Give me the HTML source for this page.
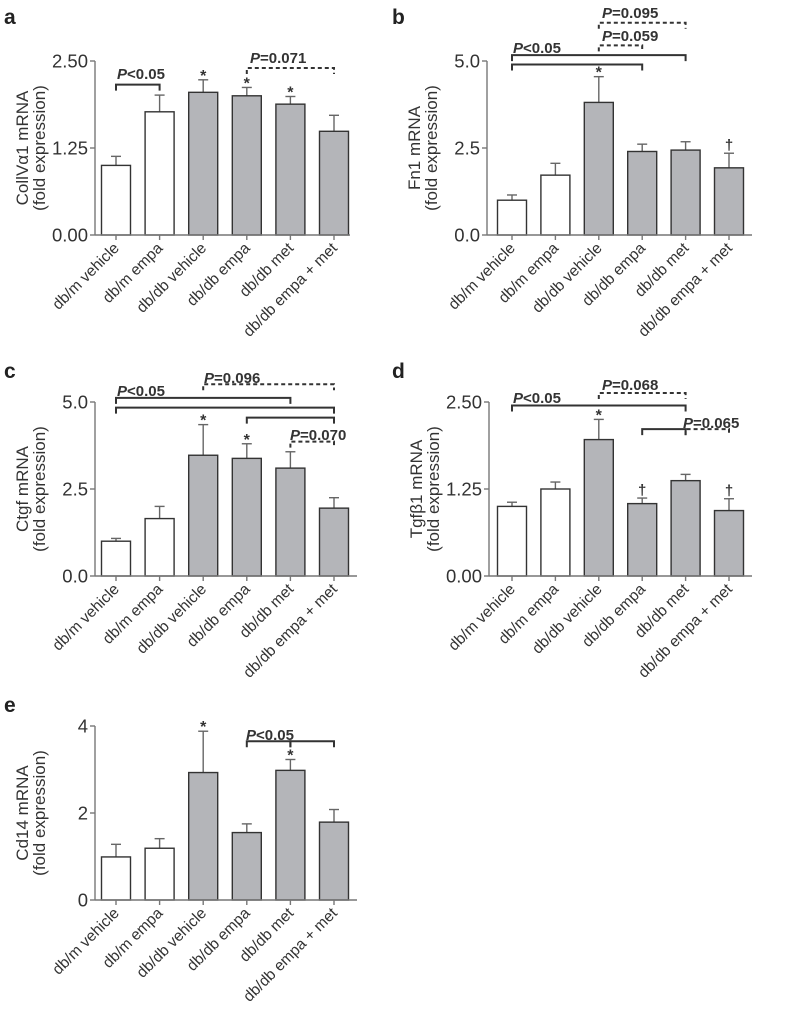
<!DOCTYPE html>
<html><head><meta charset="utf-8"><style>
html,body{margin:0;padding:0;background:#fff;}
svg{display:block;font-family:"Liberation Sans",sans-serif;}
</style></head><body>
<svg id="fig" width="787" height="1018" viewBox="0 0 787 1018"></svg>
<script>
const categories = ["db/m vehicle","db/m empa","db/db vehicle","db/db empa","db/db met","db/db empa + met"];
const valsA = [1.0,1.77,2.05,2.0,1.88,1.49];
const errA  = [1.13,2.01,2.23,2.12,1.99,1.72];
const valsB = [1.0,1.72,3.81,2.4,2.44,1.93];
const errB  = [1.15,2.06,4.55,2.61,2.68,2.35];
const valsC = [1.0,1.65,3.47,3.38,3.1,1.95];
const errC  = [1.08,2.0,4.35,3.8,3.57,2.25];
const valsD = [1.0,1.25,1.96,1.04,1.37,0.94];
const errD  = [1.06,1.35,2.25,1.12,1.46,1.11];
const valsE = [0.99,1.19,2.93,1.55,2.98,1.79];
const errE  = [1.28,1.41,3.88,1.75,3.23,2.08];
const marksA = ["","","*","*","*",""];
const marksB = ["","","*","","","†"];
const marksC = ["","","*","*","",""];
const marksD = ["","","*","†","","†"];
const marksE = ["","","*","","*",""];
const ticksA = ["0.00","1.25","2.50"];
const ticksB = ["0.0","2.5","5.0"];
const ticksE = ["0","2","4"];

const NS="http://www.w3.org/2000/svg";
const svg=document.getElementById('fig');
function el(tag,attrs,parent,text){const e=document.createElementNS(NS,tag);for(const k in attrs)e.setAttribute(k,attrs[k]);if(text!==undefined)e.textContent=text;(parent||svg).appendChild(e);return e;}

const panels=[
 {id:'a',letter:'a',lx:4,ly:24,axisX:95,axisEnd:350,zero:235,top:61,max:2.5,ticks:ticksA,vals:valsA,err:errA,marks:marksA,c0:116,sp:43.6,t1:"CollVα1 mRNA",
  br:[{a:0,b:1,y:2.16,d:false,lab:"P<0.05",lx:117,ly:79},{a:3,b:5,y:2.40,d:true,lab:"P=0.071",lx:250,ly:63}]},
 {id:'b',letter:'b',lx:392,ly:24,axisX:487,axisEnd:752,zero:235,top:61,max:5,ticks:ticksB,vals:valsB,err:errB,marks:marksB,c0:512,sp:43.4,t1:"Fn1 mRNA",
  br:[{a:2,b:4,y:6.1,d:true,lab:"P=0.095",lx:602,ly:18},{a:2,b:3,y:5.45,d:true,lab:"P=0.059",lx:602,ly:41},{a:0,b:4,y:5.17,d:false},{a:0,b:3,y:4.9,d:false,lab:"P<0.05",lx:513,ly:53}]},
 {id:'c',letter:'c',lx:4,ly:378,axisX:95,axisEnd:357,zero:576,top:402,max:5,ticks:ticksB,vals:valsC,err:errC,marks:marksC,c0:116,sp:43.6,t1:"Ctgf mRNA",
  br:[{a:2,b:5,y:5.51,d:true,lab:"P=0.096",lx:204,ly:383},{a:0,b:4,y:5.12,d:false,lab:"P<0.05",lx:117,ly:396},{a:0,b:5,y:4.84,d:false},{a:3,b:5,y:4.55,d:false},{a:4,b:5,y:3.86,d:true,lab:"P=0.070",lx:290,ly:440}]},
 {id:'d',letter:'d',lx:392,ly:378,axisX:489,axisEnd:752,zero:576,top:402,max:2.5,ticks:ticksA,vals:valsD,err:errD,marks:marksD,c0:512,sp:43.4,t1:"Tgfβ1 mRNA",
  br:[{a:2,b:4,y:2.63,d:true,lab:"P=0.068",lx:602,ly:390},{a:0,b:4,y:2.45,d:false,lab:"P<0.05",lx:513,ly:403},{a:3,b:4,y:2.11,d:false},{a:4,b:5,y:2.11,d:true,lab:"P=0.065",lx:683,ly:428}]},
 {id:'e',letter:'e',lx:4,ly:712,axisX:95,axisEnd:357,zero:900,top:726,max:4,ticks:ticksE,vals:valsE,err:errE,marks:marksE,c0:116,sp:43.6,t1:"Cd14 mRNA",
  br:[{a:3,b:4,y:3.65,d:false,lab:"P<0.05",lx:246,ly:740},{a:4,b:5,y:3.65,d:false}]}
];

panels.forEach(p=>{
  const g=el('g',{});
  
  
  const yS=v=>p.zero-(v/p.max)*(p.zero-p.top);
  const xS=i=>p.c0+i*p.sp;
  const L=el('text',{x:p.lx,y:p.ly,'font-size':21,'font-weight':'bold',fill:'#222'},g,p.letter);
  
  
  const ya=el('line',{x1:p.axisX,y1:p.top,x2:p.axisX,y2:p.zero,stroke:'#777','stroke-width':1.4},g);
  
  
  p.ticks.forEach((t,k)=>{
    const v=k*p.max/(p.ticks.length-1);const y=yS(v);
    el('line',{x1:p.axisX-5,y1:y,x2:p.axisX,y2:y,stroke:'#777','stroke-width':1.4},g);
    const tl=el('text',{x:p.axisX-7,y:y+6.5,'font-size':18.5,'text-anchor':'end',fill:'#333'},g,t);
    
    
  });
  const cy=(p.top+p.zero)/2;
  const yt=el('text',{transform:`translate(${p.axisX-67},${cy}) rotate(-90)`,'font-size':17,'text-anchor':'middle',fill:'#333'},g);
  
  
  el('tspan',{x:0,y:0},yt,p.t1);
  el('tspan',{x:0,y:17},yt,"(fold expression)");
  p.vals.forEach((v,i)=>{
    const x=xS(i);const y=yS(v);const ey=yS(p.err[i]);
    const el1=el('line',{x1:x,y1:ey,x2:x,y2:y,stroke:'#666','stroke-width':1.4},g);
    
    
    el('line',{x1:x-5,y1:ey,x2:x+5,y2:ey,stroke:'#666','stroke-width':1.4},g);
    const r=el('rect',{x:x-14.5,y:y,width:29,height:p.zero-y,fill:i<2?'#fff':'#b4b5b9',stroke:'#333','stroke-width':1.4},g);
    
    
    if(p.marks[i]){
      const star=p.marks[i]==='*';
      const m=el('text',{x:x,y:star?ey+1:ey-3,'font-size':star?16:15,'font-weight':'bold','text-anchor':'middle',fill:'#333'},g,p.marks[i]);
      
      
    }
    el('line',{x1:x,y1:p.zero,x2:x,y2:p.zero+5,stroke:'#777','stroke-width':1.4},g);
    const xl=el('text',{transform:`translate(${x+4},${p.zero+14}) rotate(-45)`,'font-size':15.5,'text-anchor':'end',fill:'#333'},g,categories[i]);
    
    
  });
  const xa=el('line',{x1:p.axisX,y1:p.zero,x2:p.axisEnd,y2:p.zero,stroke:'#777','stroke-width':1.4},g);
  
  
  p.br.forEach(b=>{
    const y=yS(b.y);const x1=xS(b.a),x2=xS(b.b);
    const pth=el('path',{d:`M${x1},${y+6}V${y}H${x2}V${y+6}`,fill:'none',stroke:'#333','stroke-width':2,'stroke-dasharray':b.d?'4,3':'none'},g);
    
    
    if(b.lab){
      const t=el('text',{x:b.lx,y:b.ly,'font-size':15,'font-weight':'bold',fill:'#333'},g);
      
      
      el('tspan',{'font-style':'italic'},t,'P');
      el('tspan',{},t,b.lab.slice(1));
    }
  });
});
</script>
</body></html>
